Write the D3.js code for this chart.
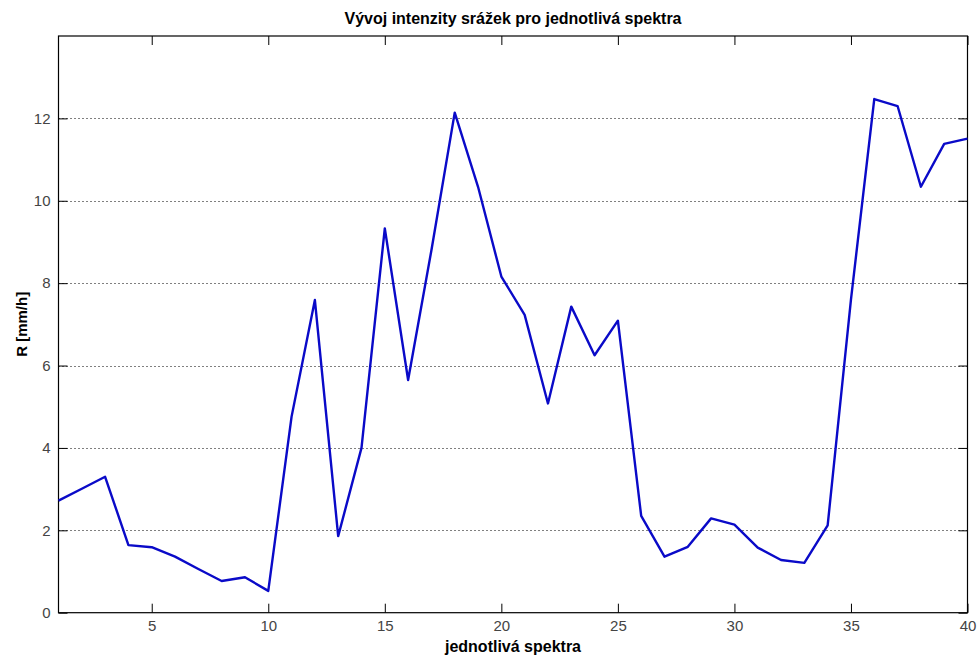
<!DOCTYPE html>
<html>
<head>
<meta charset="utf-8">
<script src="https://cdn.jsdelivr.net/npm/d3@7"></script>
<style>
  html, body { margin: 0; padding: 0; background: #fff; }
  svg { display: block; }
  text { font-family: "Liberation Sans", Arial, sans-serif; }
</style>
</head>
<body>
<svg id="chart" width="977" height="658"></svg>
<script>
// Data
const spectra = d3.range(1, 41);
const rainRate = [
  2.72, 3.01, 3.30, 1.64, 1.59, 1.36, 1.06, 0.77, 0.86, 0.53,
  4.76, 7.59, 1.86, 4.00, 9.33, 5.65, 8.80, 12.14, 10.34, 8.16,
  7.23, 5.08, 7.43, 6.25, 7.09, 2.35, 1.36, 1.60, 2.29, 2.14,
  1.58, 1.28, 1.21, 2.12, 7.60, 12.47, 12.30, 10.34, 11.38, 11.51
];
const xTicks = [5, 10, 15, 20, 25, 30, 35, 40];
const yTicks = [0, 2, 4, 6, 8, 10, 12];
const yGridTicks = [2, 4, 6, 8, 10, 12];
const titleText = "Vývoj intenzity srážek pro jednotlivá spektra";
const xLabelText = "jednotlivá spektra";
const yLabelText = "R [mm/h]";

const svg = d3.select("#chart");
const plotLeft = 58.5, plotRight = 967.5, plotTop = 36, plotBottom = 612.7;
const tickLen = 9;

const x = d3.scaleLinear().domain([1, 40]).range([plotLeft, plotRight]);
const y = d3.scaleLinear().domain([0, 14]).range([plotBottom, plotTop]);

// grid lines (dotted)
svg.append("g").selectAll("line").data(yGridTicks).join("line")
  .attr("x1", plotLeft).attr("x2", plotRight)
  .attr("y1", d => Math.round(y(d)) + 0.5).attr("y2", d => Math.round(y(d)) + 0.5)
  .attr("stroke", "#000").attr("stroke-width", 1)
  .attr("stroke-dasharray", "1,3");

// axes with inward ticks
const axisStyle = g => {
  g.selectAll("text").attr("font-size", 15).attr("fill", "#444")
    .attr("font-family", "Liberation Sans, Arial, sans-serif");
  g.selectAll("line").attr("stroke", "#000");
  g.select(".domain").remove();
};

svg.append("g").attr("transform", `translate(0,${plotBottom})`)
  .call(d3.axisBottom(x).tickValues(xTicks).tickFormat(d3.format("d"))
    .tickSizeInner(-tickLen).tickSizeOuter(0).tickPadding(8))
  .call(axisStyle);

svg.append("g").attr("transform", `translate(0,${plotTop})`)
  .call(d3.axisTop(x).tickValues(xTicks).tickFormat("")
    .tickSizeInner(-tickLen).tickSizeOuter(0))
  .call(axisStyle);

svg.append("g").attr("transform", `translate(${plotLeft},0)`)
  .call(d3.axisLeft(y).tickValues(yTicks).tickFormat(d3.format("d"))
    .tickSizeInner(-tickLen).tickSizeOuter(0).tickPadding(8))
  .call(axisStyle);

svg.append("g").attr("transform", `translate(${plotRight},0)`)
  .call(d3.axisRight(y).tickValues(yTicks).tickFormat("")
    .tickSizeInner(-tickLen).tickSizeOuter(0))
  .call(axisStyle);

// box
svg.append("rect")
  .attr("x", plotLeft).attr("y", plotTop)
  .attr("width", plotRight - plotLeft).attr("height", plotBottom - plotTop)
  .attr("fill", "none").attr("stroke", "#000").attr("stroke-width", 1.2);

// data line
const line = d3.line().x((d, i) => x(spectra[i])).y(d => y(d));
svg.append("path").datum(rainRate)
  .attr("d", line)
  .attr("fill", "none")
  .attr("stroke", "#0a0ac8")
  .attr("stroke-width", 2.4)
  .attr("stroke-linejoin", "round");

// title and labels
svg.append("text").attr("x", (plotLeft + plotRight) / 2).attr("y", 24)
  .attr("text-anchor", "middle").attr("font-size", 16).attr("font-weight", "bold")
  .attr("fill", "#000").text(titleText);

svg.append("text").attr("x", (plotLeft + plotRight) / 2).attr("y", 652)
  .attr("text-anchor", "middle").attr("font-size", 16).attr("font-weight", "bold")
  .attr("fill", "#000").text(xLabelText);

svg.append("text")
  .attr("transform", `translate(27,${(plotTop + plotBottom) / 2}) rotate(-90)`)
  .attr("text-anchor", "middle").attr("font-size", 15).attr("font-weight", "bold")
  .attr("fill", "#000").text(yLabelText);
</script>
</body>
</html>
